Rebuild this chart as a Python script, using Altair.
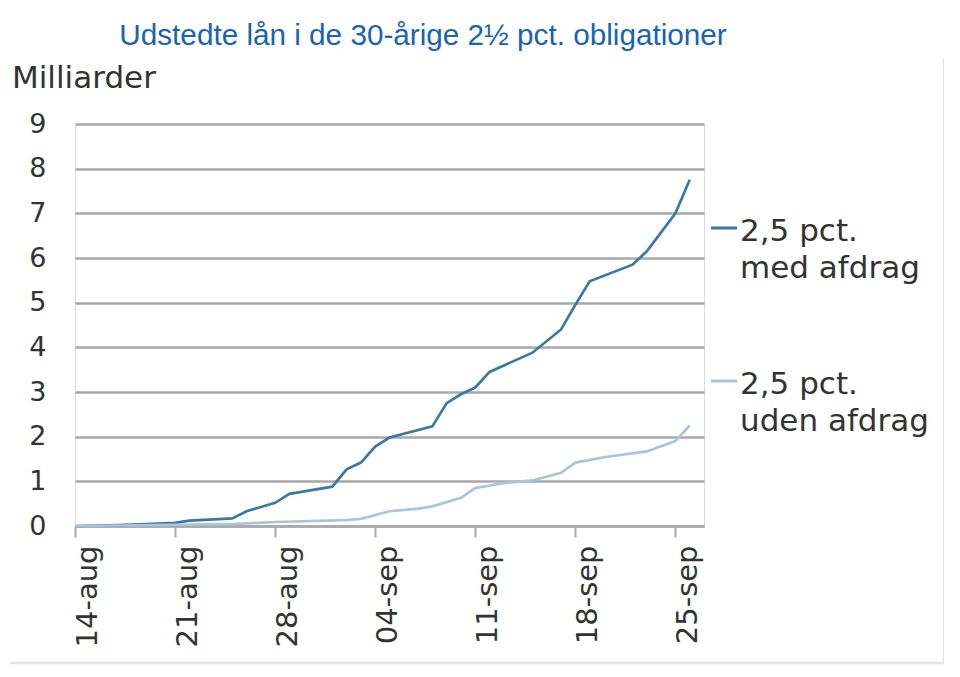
import altair as alt
import pandas as pd

# ---------------- data ----------------
title_text = "Udstedte lån i de 30-årige 2½ pct. obligationer"
y_unit_label = "Milliarder"
series_names = ["2,5 pct. med afdrag", "2,5 pct. uden afdrag"]
legend_labels = ["2,5 pct.\nmed afdrag", "2,5 pct.\nuden afdrag"]

med_dates = ["2012-08-14", "2012-08-17", "2012-08-19", "2012-08-21", "2012-08-22",
             "2012-08-25", "2012-08-26", "2012-08-28", "2012-08-29", "2012-09-01",
             "2012-09-02", "2012-09-03", "2012-09-04", "2012-09-05", "2012-09-08",
             "2012-09-09", "2012-09-10", "2012-09-11", "2012-09-12", "2012-09-15",
             "2012-09-17", "2012-09-18", "2012-09-19", "2012-09-22", "2012-09-23",
             "2012-09-25", "2012-09-26"]
med_values = [0.00, 0.02, 0.04, 0.07, 0.12,
              0.17, 0.33, 0.52, 0.72, 0.88,
              1.27, 1.42, 1.78, 1.98, 2.23,
              2.75, 2.95, 3.10, 3.45, 3.88,
              4.40, 4.95, 5.48, 5.85, 6.15,
              7.00, 7.75]

uden_dates = ["2012-08-14", "2012-08-25", "2012-08-28", "2012-09-02", "2012-09-03",
              "2012-09-05", "2012-09-07", "2012-09-08", "2012-09-10", "2012-09-11",
              "2012-09-13", "2012-09-15", "2012-09-17", "2012-09-18", "2012-09-20",
              "2012-09-23", "2012-09-25", "2012-09-26"]
uden_values = [0.00, 0.04, 0.09, 0.13, 0.16,
               0.33, 0.39, 0.44, 0.63, 0.85,
               0.96, 1.02, 1.19, 1.42, 1.54,
               1.67, 1.90, 2.25]

tick_dates = ["2012-08-14", "2012-08-21", "2012-08-28", "2012-09-04",
              "2012-09-11", "2012-09-18", "2012-09-25"]
x_domain_dates = ["2012-08-14", "2012-09-27"]
y_ticks = [0, 1, 2, 3, 4, 5, 6, 7, 8, 9]


def to_ms(d):
    return int(pd.Timestamp(d, tz="UTC").value // 10**6)


rows = []
for d, v in zip(med_dates, med_values):
    rows.append({"date": to_ms(d), "value": v, "series": series_names[0], "order": 1})
for d, v in zip(uden_dates, uden_values):
    rows.append({"date": to_ms(d), "value": v, "series": series_names[1], "order": 0})
df = pd.DataFrame(rows)

# ---------------- styles ----------------
LINE_COLORS = ["#3b78a6", "#a9c4de"]
GRID = "#a8a8a8"
TEXT = "#333333"
AXIS_FONT = "DejaVu Sans"
W, H = 629, 402

blank = alt.Data(values=[{}])

lines = alt.Chart(df).mark_line(strokeWidth=2.7).encode(
    x=alt.X(
        "date:T",
        scale=alt.Scale(type="utc", domain=[to_ms(d) for d in x_domain_dates]),
        axis=alt.Axis(
            values=[to_ms(d) for d in tick_dates],
            labelExpr="utcFormat(datum.value, '%d') + '-' + lower(utcFormat(datum.value, '%b'))",
            labelAngle=-90,
            labelFont=AXIS_FONT,
            labelFontSize=29,
            labelColor=TEXT,
            labelPadding=8,
            labelOffset=12,
            grid=False,
            domain=True,
            domainColor=GRID,
            domainWidth=2.5,
            ticks=True,
            tickColor=GRID,
            tickWidth=2,
            tickSize=11,
            title=None,
        ),
    ),
    y=alt.Y(
        "value:Q",
        scale=alt.Scale(domain=[0, 9], nice=False),
        axis=alt.Axis(
            values=y_ticks,
            labelFont=AXIS_FONT,
            labelFontSize=27,
            labelColor=TEXT,
            labelPadding=29,
            grid=True,
            gridColor=GRID,
            gridWidth=2.5,
            domain=False,
            ticks=False,
            title=None,
        ),
    ),
    color=alt.Color(
        "series:N",
        scale=alt.Scale(domain=series_names, range=LINE_COLORS),
        legend=None,
    ),
    detail="series:N",
    order=alt.Order("order:Q"),
)

title = alt.Chart(blank).mark_text(
    font="Liberation Sans", fontSize=29.7, color="#1862b8", align="center", baseline="alphabetic"
).encode(x=alt.value(348), y=alt.value(-79), text=alt.value(title_text))

unit = alt.Chart(blank).mark_text(
    font=AXIS_FONT, fontSize=31, color=TEXT, align="left", baseline="alphabetic"
).encode(x=alt.value(-63), y=alt.value(-36), text=alt.value(y_unit_label))

legend_layers = []
legend_y = [104, 257]
for i, lab in enumerate(legend_labels):
    sym = alt.Chart(blank).mark_rule(color=LINE_COLORS[i], strokeWidth=3).encode(
        x=alt.value(636), x2=alt.value(662), y=alt.value(legend_y[i])
    )
    txt = alt.Chart(blank).mark_text(
        font=AXIS_FONT, fontSize=31, color=TEXT, align="left", baseline="top",
        lineBreak="\n", lineHeight=37,
    ).encode(x=alt.value(665), y=alt.value(legend_y[i] - 11), text=alt.value(lab))
    legend_layers += [sym, txt]

border_right = alt.Chart(blank).mark_rule(color="#e4e4e4", strokeWidth=2.5).encode(
    x=alt.value(869), y=alt.value(-66), y2=alt.value(539)
)
border_bottom = alt.Chart(blank).mark_rule(color="#e4e4e4", strokeWidth=2.5).encode(
    x=alt.value(-65), x2=alt.value(870), y=alt.value(539)
)

chart = alt.layer(
    lines, title, unit, *legend_layers, border_right, border_bottom
).properties(
    width=W,
    height=H,
    autosize=alt.AutoSizeParams(type="none"),
    padding={"left": 67, "top": 116, "right": 240, "bottom": 140},
).configure_view(stroke=None).configure(background="white")

chart.save("out.html", embed_options={"renderer": "svg", "actions": False})
